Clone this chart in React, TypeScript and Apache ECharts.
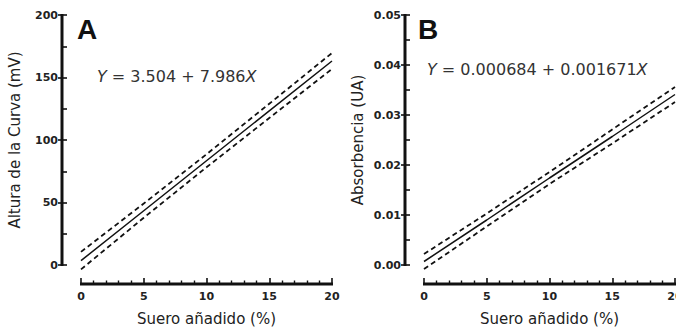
import React, { useEffect, useRef } from "react";
import * as echarts from "echarts";

const xKnots = [0, 5, 10, 15, 20];
const fitA = [3.5, 43.4, 83.4, 123.3, 163.2];
const upperA = [10.5, 49.2, 88.6, 129.0, 169.6];
const lowerA = [-3.5, 37.8, 78.2, 117.6, 156.8];
const fitB = [0.0007, 0.009, 0.0174, 0.0257, 0.0341];
const upperB = [0.0022, 0.0103, 0.0186, 0.0271, 0.0356];
const lowerB = [-0.0008, 0.0077, 0.0162, 0.0243, 0.0326];
const yMaxA = 200;
const yStepA = 50;
const yMaxB = 0.05;
const yStepB = 0.01;
const xMax = 20;
const xStep = 5;
const xTitle = "Suero añadido (%)";
const yTitleA = "Altura de la Curva (mV)";
const yTitleB = "Absorbencia (UA)";
const eqA = "{i|Y} = 3.504 + 7.986{i|X}";
const eqB = "{i|Y} = 0.000684 + 0.001671{i|X}";

const WIDE = "'DejaVu Sans', 'Liberation Sans', sans-serif";
const ARIAL = "'Liberation Sans', Arial, sans-serif";
const INK = "#111";

const pair = (ys: number[]) => xKnots.map((x, i) => [x, ys[i]]);

export default function App() {
  const ref = useRef<HTMLDivElement>(null);
  useEffect(() => {
    if (!ref.current) return;
    const chart = echarts.init(ref.current, null, { renderer: "svg" });

    const xAxisCfg = (gridIndex: number) => ({
      type: "value",
      gridIndex,
      min: 0,
      max: xMax,
      interval: xStep,
      offset: 19,
      axisLine: { show: false, onZero: false },
      axisTick: { show: true, inside: true, length: 6, lineStyle: { color: INK, width: 1.6 } },
      minorTick: { show: true, splitNumber: 5, length: 3.5, lineStyle: { color: INK, width: 1.4 } },
      splitLine: { show: false },
      minorSplitLine: { show: false },
      axisLabel: { margin: 7, fontSize: 11, fontWeight: "bold", color: "#222", fontFamily: WIDE },
      name: xTitle,
      nameLocation: "middle",
      nameGap: 27,
      nameTextStyle: { fontSize: 15, color: "#222", fontFamily: WIDE },
    });

    const yMain = (gridIndex: number, max: number, interval: number, name: string, fmt: (v: number) => string) => ({
      type: "value",
      gridIndex,
      min: 0,
      max,
      interval,
      offset: 19,
      position: "left",
      axisLine: { show: false, onZero: false },
      axisTick: { show: true, inside: false, length: 4, lineStyle: { color: INK, width: 1.6 } },
      splitLine: { show: false },
      axisLabel: { margin: 4, fontSize: 11, fontWeight: "bold", color: "#222", fontFamily: WIDE, formatter: fmt },
      name,
      nameLocation: "middle",
      nameGap: 40,
      nameTextStyle: { fontSize: 15, color: "#222", fontFamily: WIDE },
    });

    const yMinor = (gridIndex: number, max: number, interval: number) => ({
      type: "value",
      gridIndex,
      min: 0,
      max,
      interval,
      offset: 19,
      position: "left",
      axisLine: { show: false, onZero: false },
      axisTick: { show: true, inside: true, length: 5, lineStyle: { color: INK, width: 1.6 } },
      splitLine: { show: false },
      axisLabel: { show: false },
    });

    const dashed = { type: [5, 3.5] as any, width: 1.8, color: INK };
    const solid = { type: "solid", width: 1.5, color: INK };
    const mk = (data: number[][], xi: number, yi: number, ls: any) => ({
      type: "line",
      xAxisIndex: xi,
      yAxisIndex: yi,
      data,
      showSymbol: false,
      symbol: "none",
      clip: false,
      lineStyle: ls,
      silent: true,
    });

    chart.setOption({
      animation: false,
      backgroundColor: "#fff",
      grid: [
        { left: 81, width: 251, top: 15, height: 250, outerBoundsMode: "none", containLabel: false },
        { left: 424, width: 251, top: 15, height: 250, outerBoundsMode: "none", containLabel: false },
      ],
      xAxis: [xAxisCfg(0), xAxisCfg(1)],
      yAxis: [
        yMain(0, yMaxA, yStepA, yTitleA, (v: number) => String(v)),
        yMinor(0, yMaxA, yStepA / 2),
        yMain(1, yMaxB, yStepB, yTitleB, (v: number) => v.toFixed(2)),
        yMinor(1, yMaxB, yStepB / 2),
      ],
      series: [
        mk(pair(fitA), 0, 0, solid),
        mk(pair(upperA), 0, 0, dashed),
        mk(pair(lowerA), 0, 0, dashed),
        mk(pair(fitB), 1, 2, solid),
        mk(pair(upperB), 1, 2, dashed),
        mk(pair(lowerB), 1, 2, dashed),
      ],
    });

    // axis lines placed from the library's own scales (offset 19px like the axes)
    const axisLines: any[] = [];
    const grids = [
      { gi: 0, yMax: yMaxA },
      { gi: 1, yMax: yMaxB },
    ];
    grids.forEach(({ gi, yMax }) => {
      const p0 = chart.convertToPixel({ gridIndex: gi } as any, [0, 0]) as number[];
      const p1 = chart.convertToPixel({ gridIndex: gi } as any, [xMax, yMax]) as number[];
      if (!p0 || !p1) return;
      const ax = p0[0] - 19;
      const ay = p0[1] + 19;
      axisLines.push({
        type: "line", z: 10,
        shape: { x1: ax, y1: p0[1] + 1, x2: ax, y2: p1[1] - 1 },
        style: { stroke: INK, lineWidth: 3 },
      });
      axisLines.push({
        type: "line", z: 10,
        shape: { x1: p0[0] - 1, y1: ay, x2: p1[0] + 1, y2: ay },
        style: { stroke: INK, lineWidth: 3 },
      });
    });

    chart.setOption({
      graphic: [
        ...axisLines,
        { type: "text", left: 77, top: 15, style: { text: "A", fontSize: 28, fontWeight: "bold", fill: INK, fontFamily: ARIAL } },
        { type: "text", left: 418, top: 15, style: { text: "B", fontSize: 28, fontWeight: "bold", fill: INK, fontFamily: ARIAL } },
        {
          type: "text", left: 97, top: 68,
          style: {
            text: eqA, fontSize: 16, fill: "#333", fontFamily: WIDE,
            rich: { i: { fontStyle: "italic", fontSize: 16, fontFamily: WIDE, fill: "#333" } },
          },
        },
        {
          type: "text", left: 427, top: 61,
          style: {
            text: eqB, fontSize: 16, fill: "#333", fontFamily: WIDE,
            rich: { i: { fontStyle: "italic", fontSize: 16, fontFamily: WIDE, fill: "#333" } },
          },
        },
      ],
    });
    return () => chart.dispose();
  }, []);
  return <div ref={ref} style={{ position: "fixed", left: 0, top: 0, width: 676, height: 330 }} />;
}
